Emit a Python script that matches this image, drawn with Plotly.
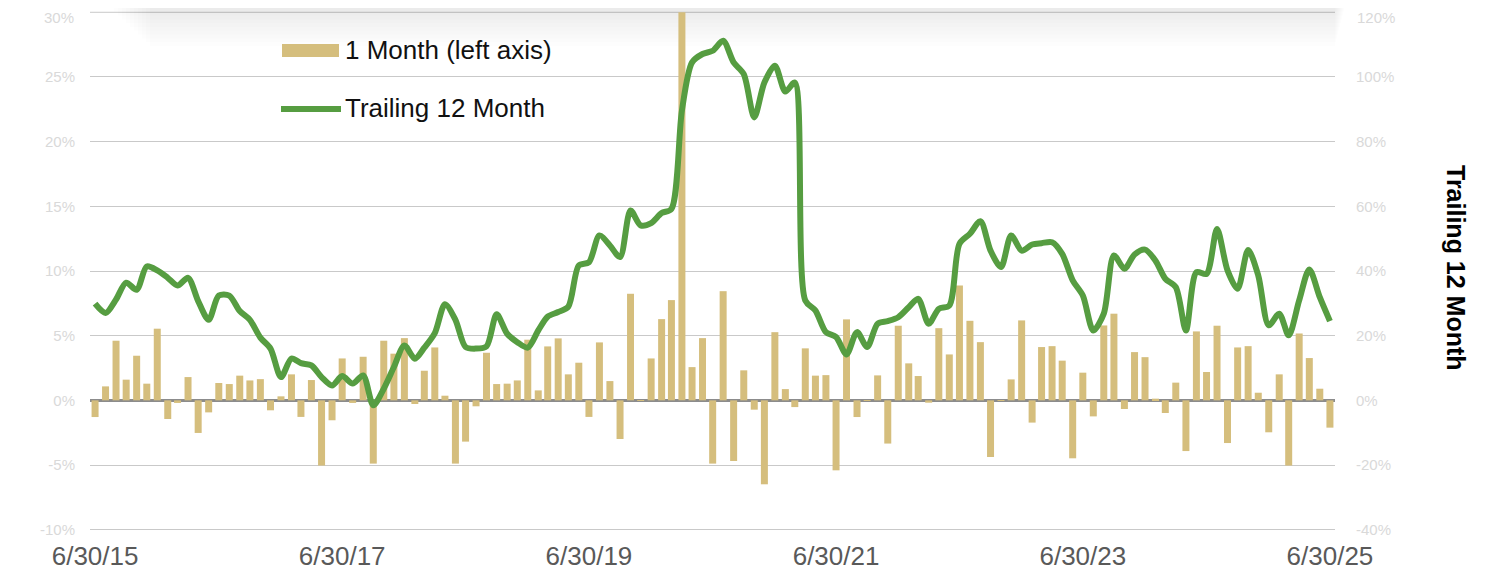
import calendar
import plotly.graph_objects as go

# ---- data -------------------------------------------------------------
start_year, start_month, n_months = 2015, 6, 121
months = []
y, m = start_year, start_month
for _ in range(n_months):
    d = calendar.monthrange(y, m)[1]
    months.append(f"{y:04d}-{m:02d}-{d:02d}")
    m += 1
    if m > 12:
        m = 1
        y += 1

one_month = [
    -1.29, 1.08, 4.61, 1.60, 3.45, 1.29, 5.54, -1.44, -0.20, 1.80,
    -2.52, -0.93, 1.34, 1.26, 1.91, 1.54, 1.64, -0.77, 0.31, 2.01,
    -1.28, 1.57, -5.04, -1.54, 3.24, -0.20, 3.37, -4.89, 4.61, 3.61,
    4.81, -0.28, 2.29, 4.09, 0.36, -4.89, -3.19, -0.46, 3.68, 1.26,
    1.29, 1.54, 4.69, 0.77, 4.17, 4.79, 2.01, 2.91, -1.28, 4.48,
    1.49, -2.99, 8.24, 0.02, 3.24, 6.28, 7.75, 30.0, 2.57, 4.81,
    -4.89, 8.44, -4.69, 2.32, -0.72, -6.49, 5.27, 0.87, -0.52, 4.02,
    1.91, 1.95, -5.41, 6.26, -1.29, 0.02, 1.93, -3.34, 5.77, 2.86,
    1.88, -0.18, 5.58, 3.55, 8.88, 6.15, 4.50, -4.38, 0.02, 1.62,
    6.18, -1.72, 4.12, 4.19, 3.07, -4.48, 2.14, -1.24, 5.79, 6.70,
    -0.67, 3.73, 3.34, 0.13, -0.98, 1.37, -3.92, 5.33, 2.19, 5.77,
    -3.30, 4.09, 4.19, 0.59, -2.47, 2.01, -5.04, 5.17, 3.27, 0.90,
    -2.11,
]

trailing_12 = [
    29.9, 27.0, 31.2, 36.4, 34.2, 41.4, 40.2, 37.9, 35.5, 37.9,
    30.7, 24.9, 32.4, 32.4, 27.6, 24.9, 19.4, 16.0, 7.2, 12.9,
    11.5, 10.8, 7.2, 4.6, 7.5, 5.2, 7.7, -1.5, 3.6, 10.3,
    17.0, 12.9, 16.3, 20.8, 29.7, 24.9, 16.5, 16.0, 16.7, 26.6,
    20.6, 18.0, 16.3, 21.6, 25.9, 27.3, 29.0, 41.7, 42.7, 51.0,
    47.9, 44.3, 58.7, 54.1, 54.8, 57.9, 59.2, 89.6, 104.5, 107.1,
    108.1, 111.2, 104.5, 100.9, 87.5, 98.3, 103.5, 95.5, 98.3, 30.9,
    27.8, 21.1, 19.6, 14.2, 21.1, 16.5, 23.7, 24.5, 25.7, 28.8,
    31.4, 23.7, 28.3, 29.3, 48.4, 51.5, 55.4, 46.3, 41.2, 51.0,
    46.3, 48.2, 48.6, 48.9, 45.3, 37.1, 32.4, 21.6, 26.8, 44.8,
    40.7, 45.1, 46.6, 43.2, 37.6, 35.0, 21.6, 39.6, 39.1, 53.0,
    40.2, 34.5, 46.5, 38.6, 23.2, 26.8, 20.1, 30.9, 40.5, 31.9,
    24.5,
]

tick_dates = ["2015-06-30", "2017-06-30", "2019-06-30", "2021-06-30", "2023-06-30", "2025-06-30"]
tick_text = ["6/30/15", "6/30/17", "6/30/19", "6/30/21", "6/30/23", "6/30/25"]

left_ticks = [-10, -5, 0, 5, 10, 15, 20, 25, 30]
right_ticks = [-40, -20, 0, 20, 40, 60, 80, 100, 120]

bar_name = "1 Month (left axis)"
line_name = "Trailing 12 Month"

# ---- style ------------------------------------------------------------
BAR_COLOR = "#d5be7d"
LINE_COLOR = "#569d41"
GRID_COLOR = "#c9c9c9"
TICK_GREY = "#d9d9d9"
FONT = "Liberation Sans, Arial, sans-serif"
OFF = 8                      # page body margin of the browser
W, H = 1510 - OFF, 571 - OFF
ML, MR, MT, MB = 90 - OFF, 175, 11 - OFF, 40
PW, PH = W - ML - MR, H - MT - MB


def px_x(p):
    """screen pixel x -> paper coordinate"""
    return (p - OFF - ML) / PW


def px_y(p):
    """screen pixel y -> paper coordinate"""
    return (H - MB - (p - OFF)) / PH


fig = go.Figure()
fig.add_trace(go.Bar(
    x=months, y=one_month, name=bar_name,
    marker=dict(color=BAR_COLOR, line=dict(width=0)),
    width=20.7 * 86400000, yaxis="y", showlegend=False,
))
fig.add_trace(go.Scatter(
    x=months, y=trailing_12, name=line_name, mode="lines",
    line=dict(color=LINE_COLOR, width=6, shape="spline", smoothing=0.8),
    yaxis="y2", showlegend=False,
))

fig.update_layout(
    width=W, height=H,
    margin=dict(l=ML, r=MR, t=MT, b=MB, pad=0, autoexpand=False),
    paper_bgcolor="white", plot_bgcolor="white",
    font=dict(family=FONT, color="#000000"),
    xaxis=dict(
        type="date", range=["2015-06-15", "2025-07-15"],
        tickmode="array", tickvals=tick_dates, ticktext=tick_text,
        showgrid=False, zeroline=False, showline=False, ticks="",
        tickfont=dict(size=26, color="#595959"), automargin=False,
        ticklabelstandoff=7,
    ),
    yaxis=dict(
        range=[-10.1, 30.1], tickmode="array", tickvals=left_ticks[:-1],
        ticktext=[f"{v}%" for v in left_ticks[:-1]],
        showgrid=True, gridcolor=GRID_COLOR, gridwidth=1,
        zeroline=True, zerolinecolor="#8c8c8c", zerolinewidth=3,
        showline=False, ticks="", ticklabelstandoff=14, automargin=False,
        tickfont=dict(size=15, color=TICK_GREY),
    ),
    yaxis2=dict(
        range=[-40.4, 120.4], overlaying="y", side="right",
        tickmode="array", tickvals=right_ticks[:-1],
        ticktext=[f"{v}%" for v in right_ticks[:-1]],
        showgrid=False, zeroline=False, showline=False, ticks="",
        ticklabelstandoff=20, automargin=False,
        tickfont=dict(size=15, color=TICK_GREY),
    ),
    showlegend=False,
)

# top gridline and its labels (plotly drops the edge tick)
fig.add_shape(type="line", xref="paper", yref="y", layer="below",
              x0=0, x1=1, y0=left_ticks[-1], y1=left_ticks[-1],
              line=dict(color=GRID_COLOR, width=1))
fig.add_annotation(text=f"{left_ticks[-1]}%", xref="paper", yref="y",
                   x=px_x(76), y=left_ticks[-1], xanchor="right", yanchor="middle",
                   yshift=-5, showarrow=False,
                   font=dict(size=15, color=TICK_GREY))
fig.add_annotation(text=f"{right_ticks[-1]}%", xref="paper", yref="y2",
                   x=px_x(1355), y=right_ticks[-1], xanchor="left", yanchor="middle",
                   yshift=-5, showarrow=False,
                   font=dict(size=15, color=TICK_GREY))

# soft shadow of the panel edge at the top of the picture
for k in range(1, 11):
    fig.add_shape(type="rect", xref="paper", yref="paper", layer="below",
                  x0=px_x(110 + k * 4), x1=px_x(1345 - k * 1),
                  y0=px_y(8 + 3.8 * k), y1=px_y(8),
                  fillcolor="rgba(0,0,0,0.008)", line=dict(width=0))

# manual legend (wide swatches as in the reference)
fig.add_shape(type="rect", xref="paper", yref="paper",
              x0=px_x(282), x1=px_x(339), y0=px_y(57), y1=px_y(44),
              fillcolor=BAR_COLOR, line=dict(width=0))
fig.add_shape(type="line", xref="paper", yref="paper",
              x0=px_x(281), x1=px_x(341), y0=px_y(109), y1=px_y(109),
              line=dict(color=LINE_COLOR, width=6))
fig.add_annotation(text=bar_name, xref="paper", yref="paper",
                   x=px_x(343), y=px_y(50), xanchor="left", yanchor="middle",
                   showarrow=False, font=dict(size=26, color="#111111"))
fig.add_annotation(text=line_name, xref="paper", yref="paper",
                   x=px_x(343), y=px_y(108), xanchor="left", yanchor="middle",
                   showarrow=False, font=dict(size=26, color="#111111"))

# right axis title
fig.add_annotation(text="<b>Trailing 12 Month</b>", xref="paper", yref="paper",
                   x=px_x(1456), y=px_y(268), xanchor="center", yanchor="middle",
                   textangle=90, showarrow=False,
                   font=dict(size=25, color="#000000"))

fig.write_html("out.html")
